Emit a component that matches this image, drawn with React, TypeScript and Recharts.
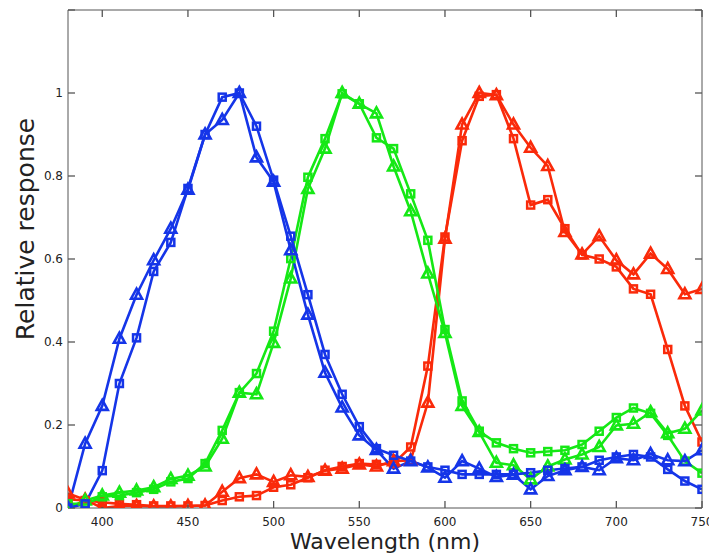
import { LineChart, Line, XAxis, YAxis, Label } from 'recharts';

// wavelength samples, every 10 nm
const WAVELENGTHS = [
  380, 390, 400, 410, 420, 430, 440, 450, 460, 470, 480, 490, 500, 510, 520, 530, 540, 550, 560,
  570, 580, 590, 600, 610, 620, 630, 640, 650, 660, 670, 680, 690, 700, 710, 720, 730, 740, 750,
];

const BLUE_SQUARE = [
  0.0, 0.01, 0.09, 0.3, 0.41, 0.57, 0.64, 0.77, 0.9, 0.99, 1.0, 0.92, 0.79, 0.655, 0.514, 0.37,
  0.274, 0.196, 0.143, 0.127, 0.113, 0.099, 0.091, 0.081, 0.081, 0.081, 0.081, 0.085, 0.091, 0.095,
  0.099, 0.115, 0.123, 0.129, 0.123, 0.093, 0.065, 0.045,
];
const BLUE_TRIANGLE = [
  0.0, 0.155, 0.246, 0.408, 0.514, 0.597, 0.673, 0.767, 0.9, 0.935, 1.0, 0.845, 0.786, 0.621, 0.466,
  0.326, 0.242, 0.175, 0.14, 0.095, 0.113, 0.098, 0.073, 0.113, 0.095, 0.075, 0.08, 0.045, 0.077,
  0.091, 0.099, 0.091, 0.12, 0.115, 0.13, 0.115, 0.113, 0.139,
];
const GREEN_SQUARE = [
  0.01, 0.01, 0.027, 0.03, 0.037, 0.045, 0.063, 0.071, 0.107, 0.187, 0.278, 0.324, 0.426, 0.601,
  0.797, 0.89, 0.998, 0.974, 0.892, 0.866, 0.757, 0.645, 0.43, 0.258, 0.185, 0.157, 0.143, 0.133,
  0.136, 0.139, 0.153, 0.185, 0.218, 0.241, 0.228, 0.175, 0.113, 0.084,
];
const GREEN_TRIANGLE = [
  0.0, 0.018, 0.03, 0.037, 0.042, 0.05, 0.07, 0.078, 0.1, 0.167, 0.278, 0.274, 0.398, 0.553, 0.769,
  0.866, 1.0, 0.974, 0.951, 0.823, 0.715, 0.565, 0.422, 0.246, 0.183, 0.109, 0.103, 0.069, 0.1,
  0.117, 0.129, 0.147, 0.199, 0.203, 0.231, 0.18, 0.191, 0.235,
];
const RED_SQUARE = [
  0.021, 0.018, 0.014, 0.01, 0.008, 0.005, 0.005, 0.005, 0.006, 0.018, 0.027, 0.03, 0.05, 0.056,
  0.073, 0.091, 0.1, 0.107, 0.105, 0.107, 0.147, 0.342, 0.653, 0.885, 0.992, 0.996, 0.89, 0.73,
  0.743, 0.673, 0.61, 0.6, 0.581, 0.528, 0.515, 0.382, 0.246, 0.159,
];
const RED_TRIANGLE = [
  0.035, 0.02, 0.0, 0.005, 0.005, 0.004, 0.004, 0.005, 0.006, 0.039, 0.072, 0.081, 0.063, 0.079,
  0.075, 0.09, 0.095, 0.105, 0.1, 0.113, 0.115, 0.254, 0.649, 0.924, 1.0, 0.995, 0.924, 0.868,
  0.824, 0.665, 0.611, 0.655, 0.597, 0.563, 0.613, 0.576, 0.515, 0.528,
];

const X_TICKS = [400, 450, 500, 550, 600, 650, 700, 750];
const Y_FRAME_TICKS = [0, 0.2, 0.4, 0.6, 0.8, 1, 1.2];

const BLUE = '#1535e8';
const GREEN = '#15e815';
const RED = '#fa2a0a';
const FRAME = '#555';
const FONT = '"DejaVu Sans", sans-serif';

const data = WAVELENGTHS.map((w, i) => ({
  w,
  bSq: BLUE_SQUARE[i],
  bTri: BLUE_TRIANGLE[i],
  gSq: GREEN_SQUARE[i],
  gTri: GREEN_TRIANGLE[i],
  rSq: RED_SQUARE[i],
  rTri: RED_TRIANGLE[i],
}));

function squareDot(color: string) {
  return (p: any) => {
    if (p.cx == null || p.cy == null) return <g key={p.index} />;
    return (
      <rect
        key={p.index}
        x={p.cx - 3.5}
        y={p.cy - 3.5}
        width={7}
        height={7}
        fill="none"
        stroke={color}
        strokeWidth={2.5}
      />
    );
  };
}

function triangleDot(color: string) {
  return (p: any) => {
    if (p.cx == null || p.cy == null) return <g key={p.index} />;
    const { cx, cy } = p;
    const pts = `${cx},${cy - 6} ${cx + 5.5},${cy + 4} ${cx - 5.5},${cy + 4}`;
    return <polygon key={p.index} points={pts} fill="none" stroke={color} strokeWidth={2.6} />;
  };
}

// frame ticks carry no labels
const NoLabel = () => <g />;

function YTitle(props: any) {
  const vb = props.viewBox;
  const cx = vb.x + 25;
  const cy = vb.y + vb.height / 2 - 30;
  return (
    <text
      x={cx}
      y={cy}
      transform={`rotate(-90 ${cx} ${cy})`}
      textAnchor="middle"
      dominantBaseline="central"
      fill="#222"
      fontSize={25}
      fontFamily={FONT}
    >
      Relative response
    </text>
  );
}

const SERIES = [
  { key: 'rSq', color: RED, dot: squareDot(RED) },
  { key: 'rTri', color: RED, dot: triangleDot(RED) },
  { key: 'gSq', color: GREEN, dot: squareDot(GREEN) },
  { key: 'gTri', color: GREEN, dot: triangleDot(GREEN) },
  { key: 'bSq', color: BLUE, dot: squareDot(BLUE) },
  { key: 'bTri', color: BLUE, dot: triangleDot(BLUE) },
];

export default function App() {
  const tickStyle = { fill: '#222', fontSize: 12, fontFamily: FONT };
  const tickLineStyle = { stroke: FRAME, strokeWidth: 1.3 };
  return (
    <div style={{ position: 'absolute', left: 0, top: 0, width: 709, height: 558, background: '#fff' }}>
      <LineChart width={709} height={558} data={data} margin={{ top: 10, right: 7, left: 0, bottom: 0 }}>
        {/* negative tickSize turns the ticks inward, MATLAB style */}
        <XAxis
          xAxisId="x"
          dataKey="w"
          type="number"
          domain={[380, 750]}
          allowDataOverflow
          ticks={X_TICKS}
          height={50}
          tickSize={-7}
          tickMargin={16}
          tickLine={tickLineStyle}
          axisLine={{ stroke: FRAME }}
          tick={tickStyle}
          interval={0}
        >
          <Label
            value="Wavelength (nm)"
            position="insideBottom"
            offset={9}
            fill="#222"
            fontSize={22}
            fontFamily={FONT}
          />
        </XAxis>
        <XAxis
          xAxisId="top"
          dataKey="w"
          type="number"
          orientation="top"
          domain={[380, 750]}
          allowDataOverflow
          ticks={X_TICKS}
          mirror
          height={1}
          tickSize={7}
          tick={NoLabel}
          tickLine={tickLineStyle}
          axisLine={{ stroke: FRAME }}
          interval={0}
        />
        <YAxis
          yAxisId="y"
          type="number"
          domain={[0, 1.2]}
          allowDataOverflow
          ticks={Y_FRAME_TICKS}
          tickFormatter={(v: number) => (v > 1 ? '' : String(v))}
          width={68}
          tickSize={-7}
          tickMargin={12}
          tickLine={tickLineStyle}
          axisLine={{ stroke: FRAME }}
          tick={tickStyle}
          interval={0}
        >
          <Label content={YTitle} />
        </YAxis>
        <YAxis
          yAxisId="right"
          type="number"
          orientation="right"
          domain={[0, 1.2]}
          allowDataOverflow
          ticks={Y_FRAME_TICKS}
          mirror
          width={1}
          tickSize={7}
          tick={NoLabel}
          tickLine={tickLineStyle}
          axisLine={{ stroke: FRAME }}
          interval={0}
        />
        {/* invisible series that binds the top and right frame axes */}
        <Line
          xAxisId="top"
          yAxisId="right"
          dataKey="bSq"
          stroke="none"
          dot={false}
          activeDot={false}
          isAnimationActive={false}
        />
        {SERIES.map((s) => (
          <Line
            key={s.key}
            xAxisId="x"
            yAxisId="y"
            type="linear"
            dataKey={s.key}
            stroke={s.color}
            strokeWidth={2.6}
            dot={s.dot}
            activeDot={false}
            isAnimationActive={false}
          />
        ))}
      </LineChart>
    </div>
  );
}
